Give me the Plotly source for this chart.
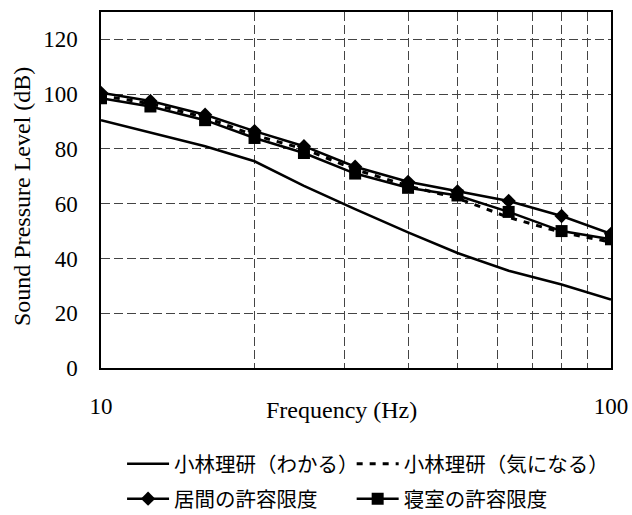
import plotly.graph_objects as go

# ---- data ----
freq = [10, 12.5, 16, 20, 25, 31.5, 40, 50, 63, 80, 100]
wakaru = [90.5, 86, 81, 75.5, 66.5, 58, 49.5, 42, 35.5, 30.5, 25]
kininaru = [99.5, 96.5, 91.5, 85, 80, 72.5, 66.5, 62, 55, 49.5, 46]
ima = [100.5, 97.5, 92.5, 86.5, 81, 73.5, 68, 64.5, 61, 55.5, 49]
shinshitsu = [98.5, 95.5, 90.5, 84, 78.5, 71, 65.8, 63, 57, 50, 47]

series_names = ["小林理研（わかる）", "小林理研（気になる）", "居間の許容限度", "寝室の許容限度"]

x_tickvals = [10, 20, 30, 40, 50, 60, 70, 80, 90, 100]
x_ticktext = ["10", "", "", "", "", "", "", "", "", "100"]
y_tickvals = [0, 20, 40, 60, 80, 100, 120]
y_ticktext = ["0", "20", "40", "60", "80", "100", "120"]

x_title = "Frequency (Hz)"
y_title = "Sound Pressure Level (dB)"

SERIF = "Liberation Serif, Times New Roman, serif"
CJK = "Noto Sans CJK JP"

fig = go.Figure()
fig.add_trace(go.Scatter(x=freq, y=wakaru, mode="lines", name=series_names[0],
                         line=dict(color="black", width=2.5), legend="legend", showlegend=True))
fig.add_trace(go.Scatter(x=freq, y=kininaru, mode="lines", name=series_names[1],
                         line=dict(color="black", width=3, dash="6px,7px"), legend="legend2", showlegend=True))
fig.add_trace(go.Scatter(x=freq, y=shinshitsu, mode="lines+markers", name=series_names[3],
                         line=dict(color="black", width=2.5),
                         marker=dict(symbol="square", size=12, color="black"),
                         legend="legend4", showlegend=True))
fig.add_trace(go.Scatter(x=freq, y=ima, mode="lines+markers", name=series_names[2],
                         line=dict(color="black", width=2.5),
                         marker=dict(symbol="diamond", size=11, color="black"),
                         legend="legend3", showlegend=True))

axis_common = dict(
    showgrid=True, gridcolor="#444444", griddash="9px,4px", gridwidth=1,
    showline=True, mirror=True, linecolor="black", linewidth=1.5,
    ticks="", zeroline=False, automargin=False,
    tickfont=dict(family=SERIF, size=23, color="black"),
)

legend_common = dict(
    orientation="h", xanchor="left", yanchor="middle",
    font=dict(family=CJK, size=20.5, color="black"), itemwidth=42,
    bgcolor="rgba(0,0,0,0)",
)

COL1_X, COL2_X = 0.0413, 0.4915
ROW1_Y, ROW2_Y = -0.2694, -0.3676

fig.update_layout(
    width=632, height=515,
    showlegend=True,
    margin=dict(l=101, r=21, t=12, b=147, autoexpand=False),
    paper_bgcolor="white", plot_bgcolor="white",
    xaxis=dict(type="log", range=[1, 2], tickvals=x_tickvals, ticktext=x_ticktext,
               ticklabelstandoff=17, **axis_common),
    yaxis=dict(range=[0, 130], tickvals=y_tickvals, ticktext=y_ticktext,
               ticklabelstandoff=17, **axis_common),
    legend=dict(x=COL1_X, y=ROW1_Y, **legend_common),
    legend2=dict(x=COL2_X, y=ROW1_Y, **legend_common),
    legend3=dict(x=COL1_X, y=ROW2_Y, **legend_common),
    legend4=dict(x=COL2_X, y=ROW2_Y, **legend_common),
    annotations=[
        dict(text=x_title, x=0.4725, y=-0.118, xref="paper", yref="paper",
             xanchor="center", yanchor="middle", showarrow=False,
             font=dict(family=SERIF, size=24, color="black")),
        dict(text=y_title, x=-0.155, y=0.483, xref="paper", yref="paper",
             xanchor="center", yanchor="middle", showarrow=False, textangle=-90,
             font=dict(family=SERIF, size=24, color="black")),
    ],
)

fig.write_html("out.html", config={"displayModeBar": False},
               post_script="document.body.style.margin='0';")
